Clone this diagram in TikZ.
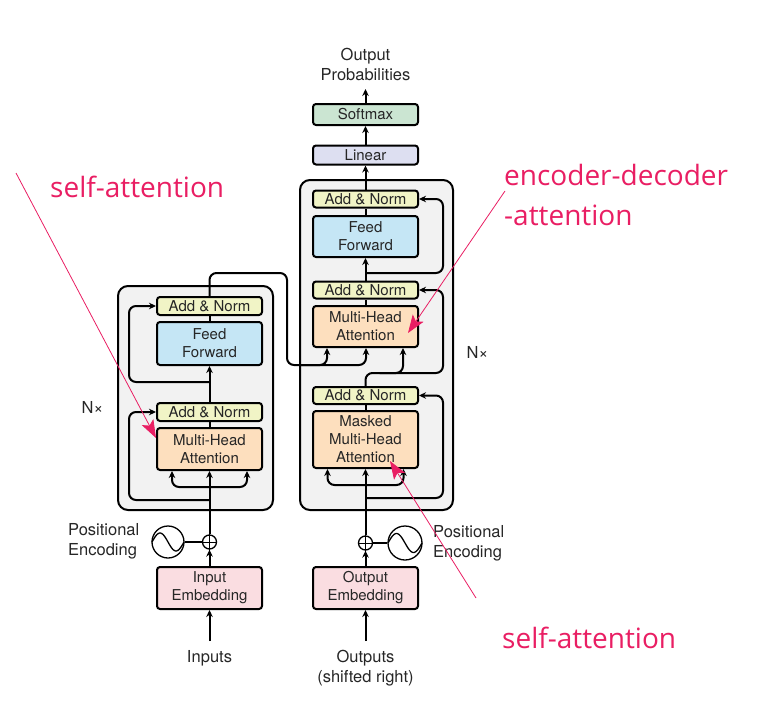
\documentclass[tikz,border=0pt]{standalone}
\usepackage{fontspec}
\setmainfont{TeX Gyre Heros}
\newfontfamily\annotfont{Open Sans}
\usetikzlibrary{arrows.meta,calc}
\definecolor{anc}{HTML}{F1F4C6}
\definecolor{ffc}{HTML}{C5E6F5}
\definecolor{mhac}{HTML}{FDDFBE}
\definecolor{embc}{HTML}{FADDE1}
\definecolor{linc}{HTML}{DDDFF1}
\definecolor{smc}{HTML}{CBE5D2}
\definecolor{blockc}{HTML}{F2F2F2}
\definecolor{pinkc}{HTML}{E91E63}
\begin{document}
\begin{tikzpicture}[x=1pt,y=-1pt,
  box/.style={draw=black, line width=2pt, rounded corners=3pt, minimum width=105pt, inner sep=0pt, align=center, font=\fontsize{15}{18}\selectfont, text=black!85},
  lbl/.style={font=\fontsize{16.5}{20}\selectfont, text=black!85, inner sep=0pt},
  wire/.style={line width=2pt, draw=black},
  arr/.style={wire, -{Stealth[length=7pt,width=6.5pt]}},
  rarr/.style={arr, rounded corners=7pt},
  block/.style={draw=black, line width=2pt, fill=blockc, rounded corners=10pt},
  ring/.style={draw=black, circle, line width=1.3pt, inner sep=0pt},
  annot/.style={font=\annotfont\fontsize{28}{40}\selectfont, text=pinkc, inner sep=0pt},
  parr/.style={draw=pinkc, line width=0.8pt, -{Stealth[length=18pt,width=13pt,inset=4pt]}},
]
\useasboundingbox (0,0) rectangle (758,709);

% ---------- blocks ----------
\draw[block] (118,286) rectangle (273,510);
\draw[block] (300,180) rectangle (453,510);

% ---------- encoder ----------
\node[box, fill=anc, minimum height=18pt] (encAN2) at (209.5,306) {Add \& Norm};
\node[box, fill=ffc, minimum height=43pt] (encFF) at (209.5,343.5) {Feed\\Forward};
\node[box, fill=anc, minimum height=18pt] (encAN1) at (209.5,412) {Add \& Norm};
\node[box, fill=mhac, minimum height=42pt] (encMHA) at (209.5,449) {Multi-Head\\Attention};
\node[box, fill=embc, minimum height=42pt] (encEmb) at (209.5,588) {Input\\Embedding};
\node[ring, minimum size=14pt] (encPlus) at (209.5,542) {};
\draw[line width=1pt] (encPlus.north) -- (encPlus.south) (encPlus.west) -- (encPlus.east);
\node[ring, minimum size=32pt] (encPE) at (168,542) {};
\draw[line width=1.3pt, shift={(encPE.center)}, domain=-1:1, samples=40, smooth, variable=\t] plot ({16*\t},{9*sin(180*\t)});
\node[lbl, anchor=west, align=left] (encPEl) at (68,541) {Positional\\Encoding};
\node[lbl, anchor=north] (inputs) at (209.5,650) {Inputs};
\node[lbl] (encN) at (92.5,407) {N×};

\draw[arr] ([yshift=9pt]inputs.north) -- (encEmb.south);
\draw[arr] (encEmb.north) -- (encPlus.south);
\draw[wire] (encPE.east) -- (encPlus.west);
\draw[arr] (encPlus.north) -- (encMHA.south);
\coordinate (encSplit) at (209.5,487);
\draw[rarr] (encSplit) -| ([xshift=-37.5pt]encMHA.south);
\draw[rarr] (encSplit) -| ([xshift=37.5pt]encMHA.south);
\coordinate (encR1) at (209.5,500);
\draw[rarr] (encR1) -| ($(encAN1.west)+(-27,0)$) -- (encAN1.west);
\draw[wire] (encMHA.north) -- (encAN1.south);
\draw[arr] (encAN1.north) -- (encFF.south);
\coordinate (encR2) at (209.5,382);
\draw[rarr] (encR2) -| ($(encAN2.west)+(-27,0)$) -- (encAN2.west);
\draw[wire] (encFF.north) -- (encAN2.south);

% ---------- decoder ----------
\node[box, fill=anc, minimum height=17pt] (decAN3) at (365.5,199) {Add \& Norm};
\node[box, fill=ffc, minimum height=41pt] (decFF) at (365.5,236.5) {Feed\\Forward};
\node[box, fill=anc, minimum height=17pt] (decAN2) at (365.5,290) {Add \& Norm};
\node[box, fill=mhac, minimum height=41pt] (decMHA2) at (365.5,326.5) {Multi-Head\\Attention};
\node[box, fill=anc, minimum height=17pt] (decAN1) at (365.5,395.5) {Add \& Norm};
\node[box, fill=mhac, minimum height=57pt] (decMHA1) at (365.5,439.5) {Masked\\Multi-Head\\Attention};
\node[box, fill=embc, minimum height=42pt] (decEmb) at (365.5,588) {Output\\Embedding};
\node[box, fill=linc, minimum height=19pt] (linear) at (365.5,155) {Linear};
\node[box, fill=smc, minimum height=21pt] (softmax) at (365.5,114.5) {Softmax};
\node[lbl, anchor=south, align=center] (outprob) at (365.5,81) {Output\\Probabilities};
\node[ring, minimum size=14pt] (decPlus) at (365.5,543) {};
\draw[line width=1pt] (decPlus.north) -- (decPlus.south) (decPlus.west) -- (decPlus.east);
\node[ring, minimum size=34pt] (decPE) at (405,543) {};
\draw[line width=1.3pt, shift={(decPE.center)}, domain=-1:1, samples=40, smooth, variable=\t] plot ({17*\t},{9.5*sin(180*\t)});
\node[lbl, anchor=west, align=left] (decPEl) at (433,543) {Positional\\Encoding};
\node[lbl, anchor=north, align=center] (outputs) at (365.5,650) {Outputs\\(shifted right)};
\node[lbl] (decN) at (477.5,352) {N×};

\draw[arr] ([yshift=9pt]outputs.north) -- (decEmb.south);
\draw[arr] (decEmb.north) -- (decPlus.south);
\draw[wire] (decPlus.east) -- (decPE.west);
\draw[arr] (decPlus.north) -- (decMHA1.south);
\coordinate (decSplit) at (365.5,485);
\draw[rarr] (decSplit) -| ([xshift=-38pt]decMHA1.south);
\draw[rarr] (decSplit) -| ([xshift=38pt]decMHA1.south);
\coordinate (decR1) at (365.5,498);
\draw[rarr] (decR1) -| ($(decAN1.east)+(24,0)$) -- (decAN1.east);
\draw[wire] (decMHA1.north) -- (decAN1.south);
\coordinate (decQ) at (365.5,373);
\draw[rarr] (decAN1.north) -- (decQ) -| ([xshift=37.5pt]decMHA2.south);
\draw[rarr] ($(decQ)+(14,0)$) -| ($(decAN2.east)+(24,0)$) -- (decAN2.east);
\draw[wire] (decMHA2.north) -- (decAN2.south);
\draw[arr] (decAN2.north) -- (decFF.south);
\coordinate (decR3) at (365.5,273);
\draw[rarr] (decR3) -| ($(decAN3.east)+(24,0)$) -- (decAN3.east);
\draw[wire] (decFF.north) -- (decAN3.south);
\draw[arr] (decAN3.north) -- (linear.south);
\draw[arr] (linear.north) -- (softmax.south);
\draw[arr] (softmax.north) -- ([yshift=-8pt]outprob.south);

% ---------- encoder -> decoder ----------
\coordinate (encTurn) at (287,273);
\coordinate (kv) at (287,365);
\draw[rarr] (encAN2.north) |- (encTurn) -- (kv) -| ([xshift=0.5pt]decMHA2.south);
\draw[rarr] ($(kv)+(12,0)$) -| ([xshift=-38.5pt]decMHA2.south);

% ---------- annotations ----------
\node[annot, anchor=base west] (sa1) at (50,197) {self-attention};
\coordinate (sa1start) at (16,173);
\draw[parr] (sa1start) -- ($(encMHA.west)+(0,-11)$);
\node[annot, anchor=north west, align=left] (ed) at (504,164) {encoder-decoder\\-attention};
\coordinate (edstart) at (505,191);
\draw[parr] (edstart) -- ($(decMHA2.east)+(-11,6.5)$);
\node[annot, anchor=base west] (sa2) at (502,648) {self-attention};
\coordinate (sa2start) at (476,598);
\draw[parr] (sa2start) -- ($(decMHA1.center)+(24.5,21.5)$);
\end{tikzpicture}
\end{document}
